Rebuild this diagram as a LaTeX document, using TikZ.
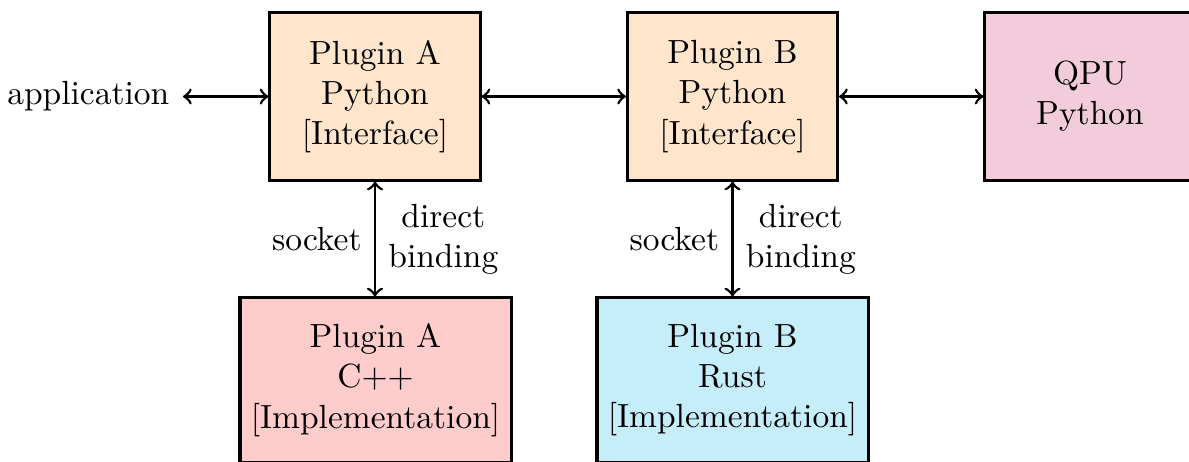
\documentclass[tikz,border=0pt]{standalone}
\usepackage{tikz}
\definecolor{ifaceorange}{RGB}{255,229,204}
\definecolor{implred}{RGB}{255,204,204}
\definecolor{implblue}{RGB}{198,238,250}
\definecolor{qpupink}{RGB}{242,204,219}
\begin{document}
\begin{tikzpicture}[x=0.29851pt, y=-0.29851pt,
  box/.style={draw=black, line width=0.9pt, rectangle, align=center, inner sep=0pt},
  topbox/.style={box, minimum width=62.7pt, minimum height=49.9pt},
  botbox/.style={box, minimum width=80.9pt, minimum height=49pt},
  conn/.style={<->, line width=0.8pt},
  lbl/.style={align=center, inner sep=3.6pt}]
\path[use as bounding box, clip] (0,0) rectangle (1189,461);
\node[topbox, fill=ifaceorange] (pa) at (375,96.5) {Plugin A\\Python\\{[Interface]}};
\node[topbox, fill=ifaceorange] (pb) at (732.5,96.5) {Plugin B\\Python\\{[Interface]}};
\node[topbox, fill=qpupink] (qpu) at (1090,96.5) {QPU\\Python};
\node[botbox, fill=implred] (ac) at (375.5,380) {Plugin A\\C++\\{[Implementation]}};
\node[botbox, fill=implblue] (br) at (732.5,380) {Plugin B\\Rust\\{[Implementation]}};
\node[anchor=east, inner sep=3.9pt] (app) at (183,96.5) {application};
\draw[conn] (app.east) -- (pa.west);
\draw[conn] (pa.east) -- (pb.west);
\draw[conn] (pb.east) -- (qpu.west);
\draw[conn] (pa.south) -- (pa.south |- ac.north)
  node[midway, left, lbl] (sa) {socket}
  node[midway, right, lbl] (da) {direct\\binding};
\draw[conn] (pb.south) -- (pb.south |- br.north)
  node[midway, left, lbl] (sb) {socket}
  node[midway, right, lbl] (db) {direct\\binding};
\end{tikzpicture}
\end{document}
